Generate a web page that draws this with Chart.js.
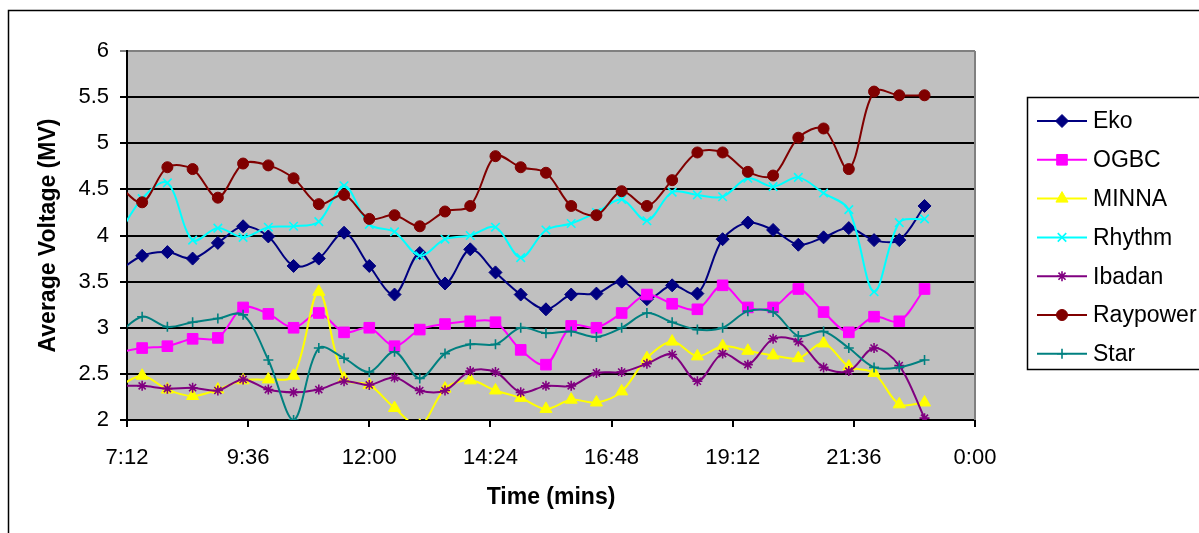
<!DOCTYPE html>
<html>
<head>
<meta charset="utf-8">
<script src="https://cdn.jsdelivr.net/npm/chart.js@4.4.1/dist/chart.umd.min.js"></script>
<style>
  html, body { margin: 0; padding: 0; background: #fff; }
  #wrap { width: 1199px; height: 533px; }
</style>
</head>
<body>
<div id="wrap"><canvas id="chart" width="1199" height="533"></canvas></div>
<script>
// readings every half hour; the 7:00 one sits left of the axis and is clipped
const times = ['7:00', '7:30', '8:00', '8:30', '9:00', '9:30', '10:00', '10:30', '11:00', '11:30', '12:00',
  '12:30', '13:00', '13:30', '14:00', '14:30', '15:00', '15:30', '16:00', '16:30', '17:00', '17:30', '18:00',
  '18:30', '19:00', '19:30', '20:00', '20:30', '21:00', '21:30', '22:00', '22:30', '23:00']

const xTickLabels = ['7:12', '9:36', '12:00', '14:24', '16:48', '19:12', '21:36', '0:00']

const eko = [3.60, 3.78, 3.82, 3.75, 3.92, 4.10, 3.99, 3.67, 3.75, 4.03, 3.67,
  3.36, 3.81, 3.48, 3.85, 3.60, 3.36, 3.20, 3.36, 3.37, 3.50, 3.31, 3.46,
  3.37, 3.96, 4.14, 4.06, 3.90, 3.98, 4.08, 3.95, 3.95, 4.32]
const ogbc = [2.73, 2.78, 2.80, 2.88, 2.89, 3.22, 3.15, 3.00, 3.16, 2.95, 3.00,
  2.80, 2.98, 3.04, 3.07, 3.06, 2.76, 2.60, 3.02, 3.00, 3.16, 3.36, 3.26,
  3.20, 3.46, 3.22, 3.22, 3.42, 3.17, 2.95, 3.12, 3.07, 3.42]
const minna = [2.35, 2.48, 2.33, 2.26, 2.33, 2.43, 2.44, 2.48, 3.39, 2.45, 2.38,
  2.13, 1.94, 2.34, 2.43, 2.32, 2.24, 2.12, 2.22, 2.19, 2.31, 2.67, 2.85,
  2.69, 2.80, 2.75, 2.70, 2.67, 2.83, 2.58, 2.51, 2.17, 2.19]
const rhythm = [3.98, 4.40, 4.57, 3.95, 4.08, 3.98, 4.09, 4.10, 4.15, 4.54, 4.12,
  4.04, 3.78, 3.96, 4.00, 4.09, 3.76, 4.06, 4.13, 4.25, 4.39, 4.16, 4.47,
  4.44, 4.42, 4.62, 4.53, 4.63, 4.46, 4.28, 3.39, 4.14, 4.18]
const ibadan = [2.37, 2.37, 2.34, 2.35, 2.32, 2.44, 2.33, 2.30, 2.33, 2.42, 2.38,
  2.46, 2.32, 2.32, 2.53, 2.52, 2.30, 2.37, 2.37, 2.51, 2.52, 2.61, 2.71,
  2.42, 2.72, 2.60, 2.88, 2.85, 2.57, 2.53, 2.78, 2.59, 2.02]
const raypower = [4.56, 4.36, 4.74, 4.72, 4.41, 4.78, 4.76, 4.62, 4.34, 4.44, 4.18,
  4.22, 4.10, 4.26, 4.32, 4.86, 4.74, 4.68, 4.32, 4.22, 4.48, 4.32, 4.60,
  4.90, 4.90, 4.69, 4.65, 5.06, 5.16, 4.72, 5.56, 5.52, 5.52]
const star = [2.92, 3.12, 3.01, 3.06, 3.10, 3.14, 2.65, 2.00, 2.78, 2.67, 2.52,
  2.74, 2.45, 2.72, 2.82, 2.82, 3.00, 2.94, 2.96, 2.90, 3.00, 3.16, 3.06,
  2.98, 3.00, 3.18, 3.17, 2.91, 2.96, 2.78, 2.57, 2.57, 2.65]

const seriesNames = ['Eko', 'OGBC', 'MINNA', 'Rhythm', 'Ibadan', 'Raypower', 'Star']
const seriesValues = [eko, ogbc, minna, rhythm, ibadan, raypower, star]
const seriesColors = ['#000080', '#ff00ff', '#ffff00', '#00ffff', '#800080', '#800000', '#008080']
const seriesMarkers = ['rectRot', 'rect', 'triangle', 'crossRot', 'star', 'circle', 'cross']
const markerSizes = [6.5, 7.5, 7, 6, 5, 5.5, 5]

const FONT = "'Liberation Sans', Arial, sans-serif"

function toMinutes(label) {
  const [h, m] = label.split(':').map(Number)
  return h * 60 + m
}

function markerBorder(style) {
  return ['cross', 'crossRot', 'star'].includes(style) ? 1.6 : 1
}

const datasets = seriesNames.map((name, i) => ({
  label: name,
  data: times.map((t, j) => ({ x: toMinutes(t), y: seriesValues[i][j] })),
  borderColor: seriesColors[i],
  backgroundColor: seriesColors[i],
  pointBackgroundColor: seriesColors[i],
  pointBorderColor: seriesColors[i],
  borderWidth: 2,
  pointStyle: seriesMarkers[i],
  pointRadius: markerSizes[i],
  pointBorderWidth: markerBorder(seriesMarkers[i]),
  tension: 0.33,
  order: seriesNames.length - i
}))

const framePlugin = {
  id: 'frame',
  beforeDraw(chart) {
    const { ctx, chartArea } = chart
    ctx.save()
    ctx.fillStyle = '#ffffff'
    ctx.fillRect(0, 0, chart.width, chart.height)
    ctx.fillStyle = '#c0c0c0'
    ctx.fillRect(chartArea.left, chartArea.top, chartArea.right - chartArea.left, chartArea.bottom - chartArea.top)
    ctx.restore()
  },
  afterDatasetsDraw(chart) {
    const { ctx, chartArea } = chart
    ctx.save()
    ctx.strokeStyle = '#808080'
    ctx.lineWidth = 2
    ctx.beginPath()
    ctx.moveTo(chartArea.right, chartArea.top)
    ctx.lineTo(chartArea.right, chartArea.bottom)
    ctx.stroke()
    ctx.restore()
  },
  afterDraw(chart) {
    const { ctx } = chart
    ctx.save()
    // outer chart border
    ctx.strokeStyle = '#000'
    ctx.lineWidth = 1.5
    ctx.strokeRect(8.5, 10.5, 1210, 540)

    // legend
    ctx.strokeRect(1027.5, 97.5, 200, 272)
    seriesNames.forEach((name, i) => {
      const y = 121 + i * 38.8
      ctx.strokeStyle = seriesColors[i]
      ctx.fillStyle = seriesColors[i]
      ctx.lineWidth = 2
      ctx.beginPath()
      ctx.moveTo(1037, y)
      ctx.lineTo(1087, y)
      ctx.stroke()
      if (Chart.helpers && Chart.helpers.drawPoint) {
        ctx.lineWidth = markerBorder(seriesMarkers[i])
        Chart.helpers.drawPoint(ctx, {
          pointStyle: seriesMarkers[i],
          radius: markerSizes[i],
          rotation: 0,
          borderWidth: markerBorder(seriesMarkers[i])
        }, 1062, y)
      }
      ctx.fillStyle = '#000'
      ctx.font = '23px ' + FONT
      ctx.textBaseline = 'middle'
      ctx.textAlign = 'left'
      ctx.fillText(name, 1093, y + 1)
    })
    ctx.restore()
  }
}

new Chart(document.getElementById('chart'), {
  type: 'line',
  data: { datasets },
  options: {
    responsive: false,
    animation: false,
    devicePixelRatio: 1,
    layout: { padding: { left: 0, top: 51, right: 224, bottom: 0 } },
    plugins: {
      legend: { display: false },
      tooltip: { enabled: false },
      title: { display: false }
    },
    scales: {
      x: {
        type: 'linear',
        min: 432,
        max: 1440,
        afterFit: scale => { scale.height = 113 },
        ticks: {
          stepSize: 144,
          autoSkip: false,
          maxRotation: 0,
          padding: 18,
          color: '#000',
          font: { family: FONT, size: 22 },
          callback: (value, index) => xTickLabels[index]
        },
        grid: {
          drawOnChartArea: false,
          drawTicks: true,
          tickLength: 7,
          color: '#000',
          lineWidth: 2
        },
        border: { color: '#000', width: 2 },
        title: {
          display: true,
          text: 'Time (mins)',
          color: '#000',
          font: { family: FONT, size: 23, weight: 'bold' },
          padding: { top: 0, bottom: 22 }
        }
      },
      y: {
        min: 2,
        max: 6,
        afterFit: scale => { scale.width = 127 },
        ticks: {
          stepSize: 0.5,
          padding: 11,
          color: '#000',
          font: { family: FONT, size: 22 },
          callback: value => String(value)
        },
        grid: {
          color: ctx => (ctx.tick && ctx.tick.value === 6 ? '#808080' : '#000'),
          lineWidth: 2,
          tickLength: 7
        },
        border: { color: '#000', width: 2 },
        title: {
          display: true,
          text: 'Average Voltage (MV)',
          color: '#000',
          font: { family: FONT, size: 23, weight: 'bold' },
          padding: { top: 35, bottom: 0 }
        }
      }
    }
  },
  plugins: [framePlugin]
})
</script>
</body>
</html>
